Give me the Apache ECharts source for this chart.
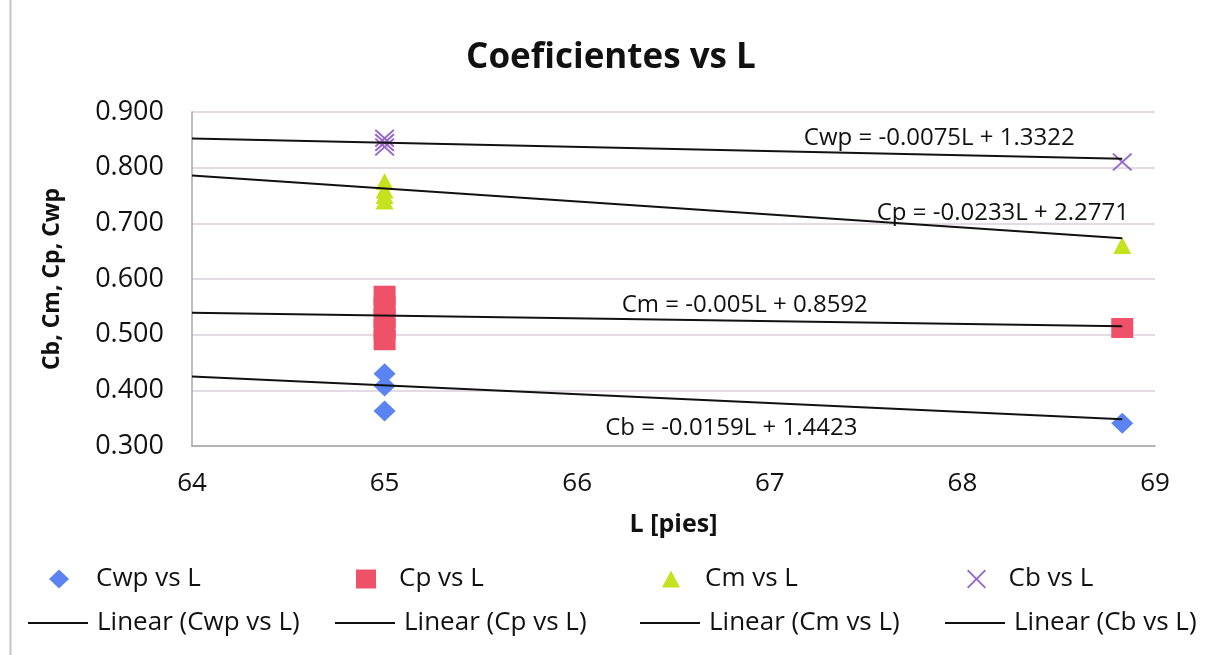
<!DOCTYPE html>
<html>
<head>
<meta charset="utf-8">
<script src="https://cdn.jsdelivr.net/npm/echarts@6/dist/echarts.min.js"></script>
<style>
  html, body { margin: 0; padding: 0; background: #ffffff; }
  #chart { width: 1222px; height: 655px; }
</style>
</head>
<body>
<div id="chart"></div>
<script>
// Measured coefficients for hull length L [pies]
const cwpL = [65, 65, 65, 68.83];
const cwpVals = [0.430, 0.408, 0.363, 0.341];

const cpL = [65, 65, 65, 65, 65, 68.83];
const cpVals = [0.570, 0.550, 0.530, 0.510, 0.490, 0.512];

const cmL = [65, 65, 65, 65, 68.83];
const cmVals = [0.775, 0.760, 0.750, 0.740, 0.660];

const cbL = [65, 65, 65, 68.83];
const cbVals = [0.853, 0.845, 0.837, 0.810];

// Linear trend lines: value = slope * L + intercept
const trendNames = ['Cwp', 'Cp', 'Cm', 'Cb'];
const trendSlopes = [-0.0075, -0.0233, -0.005, -0.0159];
const trendIntercepts = [1.3322, 2.2771, 0.8592, 1.4423];
const trendRange = [64, 68.83];
// where each equation text sits, in data units [L, value]
const eqLabelAt = [[67.88, 0.853], [68.21, 0.719], [66.87, 0.553], [66.80, 0.332]];

const xTicks = [64, 65, 66, 67, 68, 69];
const yTicks = [0.3, 0.4, 0.5, 0.6, 0.7, 0.8, 0.9];

const FONT = '"Open Sans", Lato, sans-serif';
const xShape = 'path://M0,1.4L1.4,0L10,8.6L18.6,0L20,1.4L11.4,10L20,18.6L18.6,20L10,11.4L1.4,20L0,18.6L8.6,10Z';
const lineIcon = 'path://M0,0L60,0L60,2L0,2Z';

const pairs = (xs, ys) => xs.map((x, i) => [x, ys[i]]);

function fmtEq(i) {
  const s = trendSlopes[i];
  const b = trendIntercepts[i];
  return trendNames[i] + ' = ' + (s < 0 ? '-' : '') + String(Math.abs(s)) + 'L + ' + String(b);
}

const scatterDefs = [
  { name: 'Cwp vs L', xs: cwpL, ys: cwpVals, symbol: 'diamond', size: [22, 21], color: '#5b84f2' },
  { name: 'Cp vs L', xs: cpL, ys: cpVals, symbol: 'rect', size: [22, 20], color: '#ef5268' },
  { name: 'Cm vs L', xs: cmL, ys: cmVals, symbol: 'triangle', size: [18, 17], color: '#c6e21e' },
  { name: 'Cb vs L', xs: cbL, ys: cbVals, symbol: xShape, size: [20, 18], color: '#9466cc' }
];

const series = [];
scatterDefs.forEach(d => {
  series.push({
    type: 'scatter',
    name: d.name,
    data: pairs(d.xs, d.ys),
    symbol: d.symbol,
    symbolSize: d.size,
    itemStyle: { color: d.color, opacity: 1 },
    z: 3
  });
});

const lineNames = ['Linear (Cwp vs L)', 'Linear (Cp vs L)', 'Linear (Cm vs L)', 'Linear (Cb vs L)'];
trendNames.forEach((n, i) => {
  series.push({
    type: 'line',
    name: lineNames[i],
    data: trendRange.map(L => [L, trendSlopes[i] * L + trendIntercepts[i]]),
    symbol: 'none',
    lineStyle: { color: '#111111', width: 2 },
    itemStyle: { color: '#111111' },
    z: 4,
    markPoint: {
      symbol: 'rect',
      symbolSize: 0,
      data: [{ coord: eqLabelAt[i] }],
      label: {
        show: true,
        position: 'inside',
        formatter: fmtEq(i),
        color: '#111111',
        fontFamily: FONT,
        fontSize: 24
      }
    }
  });
});

// legend: two rows of four, each entry placed in its own column
const legendCols = [44, 351, 657, 962];
const legendTextX = [97, 400, 706, 1010];
const lineCols = [28, 335, 640, 945];
const legends = [];
scatterDefs.forEach((d, i) => {
  const w = d.symbol === 'triangle' ? 18 : 20;
  legends.push({
    data: [{ name: d.name, icon: d.symbol }],
    left: legendCols[i],
    top: 561,
    itemWidth: w,
    itemHeight: d.symbol === 'triangle' ? 17 : 19,
    itemGap: 0,
    textStyle: {
      fontFamily: FONT, fontSize: 26, color: '#111111',
      padding: [0, 0, 0, legendTextX[i] - legendCols[i] - w - 11]
    }
  });
});
lineNames.forEach((n, i) => {
  legends.push({
    data: [{ name: n, icon: lineIcon }],
    left: lineCols[i],
    top: 610,
    padding: 0,
    itemWidth: 60,
    itemHeight: 2,
    itemGap: 0,
    textStyle: { fontFamily: FONT, fontSize: 26, color: '#111111', padding: [0, 0, 0, 4] }
  });
});

const chart = echarts.init(document.getElementById('chart'), null, { renderer: 'canvas' });
chart.setOption({
  backgroundColor: '#ffffff',
  animation: false,
  title: {
    text: 'Coeficientes vs L',
    left: 'center',
    top: 36,
    textStyle: { fontFamily: FONT, fontSize: 35, fontWeight: 'bold', color: '#111111' }
  },
  graphic: [{
    type: 'line',
    shape: { x1: 10.5, y1: 0, x2: 10.5, y2: 655 },
    style: { stroke: '#c9c0cc', lineWidth: 2 }
  }],
  grid: { left: 192, right: 67, top: 112, bottom: 209 },
  legend: legends,
  xAxis: {
    type: 'value',
    min: xTicks[0],
    max: xTicks[xTicks.length - 1],
    interval: 1,
    name: 'L [pies]',
    nameLocation: 'middle',
    nameGap: 66,
    nameTextStyle: { fontFamily: FONT, fontSize: 25, fontWeight: 'bold', color: '#111111' },
    axisLine: { show: true, lineStyle: { color: '#a9a3a9', width: 1.5 } },
    axisTick: { show: false },
    splitLine: { show: false },
    axisLabel: { fontFamily: FONT, fontSize: 26, color: '#111111', margin: 25 }
  },
  yAxis: {
    type: 'value',
    min: yTicks[0],
    max: yTicks[yTicks.length - 1],
    interval: 0.1,
    name: 'Cb, Cm, Cp, Cwp',
    nameLocation: 'middle',
    nameGap: 128,
    nameRotate: 90,
    nameTextStyle: { fontFamily: FONT, fontSize: 23, fontWeight: 'bold', color: '#111111' },
    axisLine: { show: true, lineStyle: { color: '#a9a3a9', width: 1.5 } },
    axisTick: { show: false },
    splitLine: { show: true, lineStyle: { color: '#d9d1d9', width: 1.5 } },
    axisLabel: { fontFamily: FONT, fontSize: 27, color: '#111111', margin: 28, formatter: v => v.toFixed(3) }
  },
  series: series
});
</script>
</body>
</html>
